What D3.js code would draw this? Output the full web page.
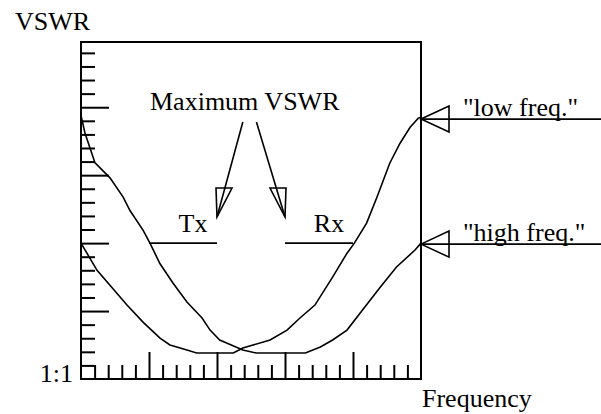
<!DOCTYPE html>
<html>
<head>
<meta charset="utf-8">
<script src="https://cdn.jsdelivr.net/npm/d3@7"></script>
<style>
  body { margin: 0; background: #fff; }
  text { font-family: "Liberation Serif", "Times New Roman", serif; font-size: 26px; fill: #000; }
</style>
</head>
<body>
<div id="chart"></div>
<script>
// frequency steps and vswr steps (arbitrary units, one tick = 1)
var xTicks = d3.range(1, 25);
var yTicks = d3.range(1, 25);

// curves: [frequency, vswr]
var lowFreq = [[0,10.0],[1.18,8.0],[2.13,6.9],[3.38,5.44],[4.56,4.19],[5.81,3.01],[6.54,2.5],
  [7.79,2.13],[8.5,1.91],[11.2,1.91],[11.9,2.28],[12.65,2.5],[13.9,2.87],[15.15,3.6],[16.1,4.49],
  [17.2,5.44],[18.5,7.5],[19.56,9.26],[20.1,10.0],[21.0,11.47],[21.76,13.38],[22.7,15.88],
  [23.46,17.35],[24.2,18.53],[24.8,19.2],[25,19.26]];
var highFreq = [[0,19.4],[0.29,18.1],[1.03,15.9],[2.13,14.8],[3.09,13.4],[3.6,12.4],[4.56,10.96],
  [5.07,10.0],[5.8,8.5],[6.76,7.06],[7.79,5.66],[8.9,4.49],[9.49,3.6],[10.2,2.87],[11.9,2.13],
  [12.9,1.91],[16.5,1.91],[17.6,2.35],[18.5,2.87],[19.56,3.6],[20.7,5.07],[22.0,6.76],
  [23.2,8.24],[24.56,9.49],[25,10.0]];

// maximum vswr level and the two bands
var maxVswr = 10;
var bands = [{name: "Tx", from: 5, to: 10}, {name: "Rx", from: 15, to: 20}];
var curveLabels = [{name: "\"low freq.\"", y: 19.2}, {name: "\"high freq.\"", y: 10}];

var W = 601, H = 414;
var svg = d3.select("#chart").append("svg")
  .attr("width", W).attr("height", H);

var xScale = d3.scaleLinear().domain([0, 25]).range([81, 421]);
var yScale = d3.scaleLinear().domain([0, 24.8]).range([379, 42]);

// inward ticks, every fifth one long
var xAxis = d3.axisBottom(xScale).tickValues(xTicks).tickSize(-14).tickFormat("");
var gx = svg.append("g").attr("transform", "translate(0," + yScale(0) + ")").call(xAxis);
gx.select(".domain").remove();
gx.selectAll(".tick line")
  .attr("y2", d => d % 5 == 0 ? -27 : -14)
  .style("stroke", "#000").style("stroke-width", 2);

var yAxis = d3.axisLeft(yScale).tickValues(yTicks).tickSize(-14).tickFormat("");
var gy = svg.append("g").attr("transform", "translate(" + xScale(0) + ",0)").call(yAxis);
gy.select(".domain").remove();
gy.selectAll(".tick line")
  .attr("x2", d => d % 5 == 0 ? 28 : 14)
  .style("stroke", "#000").style("stroke-width", 2);

svg.append("rect")
  .attr("x", xScale(0)).attr("y", yScale(24.8))
  .attr("width", xScale(25) - xScale(0))
  .attr("height", yScale(0) - yScale(24.8))
  .style("fill", "none").style("stroke", "#000").style("stroke-width", 2);

// curves
var line = d3.line().x(d => xScale(d[0])).y(d => yScale(d[1]));
[lowFreq, highFreq].forEach(function(c) {
  svg.append("path").attr("d", line(c))
    .style("fill", "none").style("stroke", "#000").style("stroke-width", 1.6);
});

// Tx / Rx limit lines
bands.forEach(function(b) {
  svg.append("line")
    .attr("x1", xScale(b.from)).attr("x2", xScale(b.to))
    .attr("y1", yScale(maxVswr)).attr("y2", yScale(maxVswr))
    .style("stroke", "#000").style("stroke-width", 1.6);
  svg.append("text")
    .attr("x", (xScale(b.from) + xScale(b.to)) / 2 + 10)
    .attr("y", yScale(maxVswr) - 11)
    .attr("text-anchor", "middle")
    .text(b.name);
});

// "Maximum VSWR" label with two arrows down to the band edges
svg.append("text").attr("x", 150).attr("y", 110).text("Maximum VSWR");
var starts = [11.9, 12.9];
var tips = [bands[0].to, bands[1].from];
tips.forEach(function(t, i) {
  var x0 = xScale(starts[i]), y0 = 122;
  var x1 = xScale(t), y1 = 217;
  svg.append("line").attr("x1", x0).attr("y1", y0).attr("x2", x1).attr("y2", y1)
    .style("stroke", "#000").style("stroke-width", 1.6);
  var bx = i == 0 ? x1 - 1 : x1 - 15;
  svg.append("path")
    .attr("d", "M" + bx + ",188 L" + (bx + 16) + ",188 L" + x1 + "," + y1 + " Z")
    .style("fill", "none").style("stroke", "#000").style("stroke-width", 1.6);
});

// curve labels with arrows pointing at the right edge
curveLabels.forEach(function(c) {
  var y = yScale(c.y) + 1;
  var tx = xScale(25);
  svg.append("line").attr("x1", tx).attr("x2", W).attr("y1", y).attr("y2", y)
    .style("stroke", "#000").style("stroke-width", 1.6);
  svg.append("path")
    .attr("d", "M" + tx + "," + y + " L" + (tx + 28) + "," + (y - 13) + " L" + (tx + 28) + "," + (y + 13) + " Z")
    .style("fill", "none").style("stroke", "#000").style("stroke-width", 1.6);
  svg.append("text").attr("x", 463).attr("y", y - 3).text(c.name);
});

// axis labels
svg.append("text").attr("x", 15).attr("y", 30).text("VSWR");
svg.append("text").attr("x", 73).attr("y", 382).attr("text-anchor", "end").text("1:1");
svg.append("text").attr("x", 422).attr("y", 407).text("Frequency");
</script>
</body>
</html>
